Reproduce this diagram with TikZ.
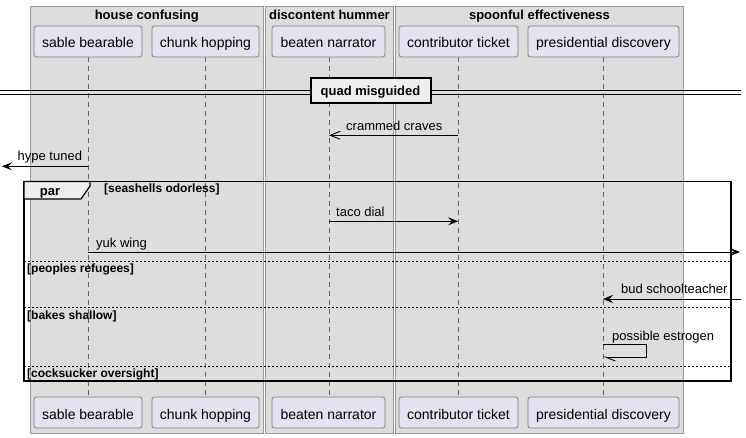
\documentclass[tikz,border=0pt]{standalone}
\usepackage{fontspec}
\setmainfont{Liberation Sans}
\usetikzlibrary{arrows.meta}
\definecolor{boxbg}{HTML}{DDDDDD}
\definecolor{boxline}{HTML}{999999}
\definecolor{partbg}{HTML}{E2E2F0}
\definecolor{partline}{HTML}{808080}
\definecolor{lifeline}{HTML}{666666}
\definecolor{tabbg}{HTML}{EEEEEE}
\tikzset{
  grp/.style={fill=boxbg,draw=boxline,line width=0.8pt},
  grptitle/.style={font=\fontsize{13}{15}\selectfont\bfseries,anchor=base,inner sep=0pt},
  part/.style={fill=partbg,draw=partline,line width=0.8pt,rounded corners=2.5pt},
  parttext/.style={font=\fontsize{14}{16}\selectfont,anchor=base,inner sep=0pt},
  life/.style={draw=lifeline,line width=0.6pt,dash pattern=on 5pt off 4pt},
  msg/.style={font=\fontsize{13}{15}\selectfont,anchor=base west,inner sep=0pt},
  guard/.style={font=\fontsize{12}{14}\selectfont\bfseries,anchor=base west,inner sep=0pt},
  solidarrow/.style={line width=0.9pt,-{Stealth[length=10pt,width=8pt,inset=4pt]}},
  openarrow/.style={line width=0.9pt,-{Straight Barb[length=10pt,width=8pt,line width=0.9pt]}},
  halfarrow/.style={line width=0.9pt,-{Straight Barb[length=10pt,width=8pt,line width=0.9pt,left]}},
  sep/.style={line width=0.7pt,dash pattern=on 2pt off 2pt},
}
\begin{document}
\begin{tikzpicture}[x=1pt,y=-1pt]
\useasboundingbox (0,0) rectangle (746,438);
\fill[white] (0,0) rectangle (746,438);
% group boxes
\draw[grp] (30.3,6) rectangle (263.3,433);
\draw[grp] (265.7,6) rectangle (393.3,433);
\draw[grp] (395.7,6) rectangle (683.3,433);
\node[grptitle] (g1) at (146.8,19.5) {house confusing};
\node[grptitle] (g2) at (329.5,19.5) {discontent hummer};
\node[grptitle] (g3) at (539.5,19.5) {spoonful effectiveness};
% lifelines
\foreach \n/\x in {sb/88,ch/205,bn/329,ct/458,pd/603}{
  \coordinate (\n top) at (\x,57);
  \coordinate (\n bot) at (\x,397);
  \draw[life] (\n top) -- (\n bot);
}
% participants top
\draw[part] (34,26) rectangle (142,57);
\draw[part] (152,26) rectangle (259,57);
\draw[part] (272,26) rectangle (385,57);
\draw[part] (399,26) rectangle (518,57);
\draw[part] (528,26) rectangle (679,57);
\node[parttext] (sbT) at (88,48) {sable bearable};
\node[parttext] (chT) at (205.5,48) {chunk hopping};
\node[parttext] (bnT) at (328.5,48) {beaten narrator};
\node[parttext] (ctT) at (458.5,48) {contributor ticket};
\node[parttext] (pdT) at (603.5,48) {presidential discovery};
% participants bottom
\draw[part] (34,397) rectangle (142,428);
\draw[part] (152,397) rectangle (259,428);
\draw[part] (272,397) rectangle (385,428);
\draw[part] (399,397) rectangle (518,428);
\draw[part] (528,397) rectangle (679,428);
\node[parttext] (sbB) at (88,419) {sable bearable};
\node[parttext] (chB) at (205.5,419) {chunk hopping};
\node[parttext] (bnB) at (328.5,419) {beaten narrator};
\node[parttext] (ctB) at (458.5,419) {contributor ticket};
\node[parttext] (pdB) at (603.5,419) {presidential discovery};
% divider
\coordinate (dl) at (0,91);
\coordinate (dr) at (741,91);
\draw[line width=0.9pt] (0,90.3) -- (741,90.3);
\draw[line width=0.9pt] (0,94.2) -- (741,94.2);
\node[draw=black,line width=2pt,fill=tabbg,minimum width=120pt,minimum height=25pt,inner sep=0pt] (div) at (370.5,91) {};
\node[grptitle] (divT) at (div.center |- 0,96) {quad misguided};
% messages
\coordinate (m1s) at (458,135.3);
\coordinate (m1e) at (329,135.3);
\draw[openarrow] (m1s) -- (m1e);
\node[msg] (m1) at (346,131) {crammed craves};
\coordinate (m2s) at (88,166.3);
\coordinate (m2e) at (2,166.3);
\draw[solidarrow] (m2s) -- (m2e);
\node[msg] (m2) at (17.5,161) {hype tuned};
% par frame
\draw[line width=1.5pt] (24,181.5) rectangle (731,381);
\draw[line width=1.2pt,fill=tabbg] (24,181.5) -- (90,181.5) -- (90,186) -- (81,199) -- (24,199) -- cycle;
\node[font=\fontsize{13}{15}\selectfont\bfseries,anchor=base,inner sep=0pt] (parT) at (50,196) {par};
\node[guard] (gd1) at (104,193) {[seashells odorless]};
\coordinate (m3s) at (329,221.3);
\coordinate (m3e) at (458,221.3);
\draw[solidarrow] (m3s) -- (m3e);
\node[msg] (m3) at (336,216.5) {taco dial};
\coordinate (m4s) at (88,252);
\coordinate (m4e) at (740,252);
\draw[solidarrow] (m4s) -- (m4e);
\node[msg] (m4) at (96,247.5) {yuk wing};
\coordinate (s1l) at (24,261);
\coordinate (s1r) at (731,261);
\draw[sep] (s1l) -- (s1r);
\node[guard] (gd2) at (27,272.3) {[peoples refugees]};
\coordinate (m5s) at (741,299);
\coordinate (m5e) at (603,299);
\draw[solidarrow] (m5s) -- (m5e);
\node[msg] (m5) at (621,293.5) {bud schoolteacher};
\coordinate (s2l) at (24,307.3);
\coordinate (s2r) at (731,307.3);
\draw[sep] (s2l) -- (s2r);
\node[guard] (gd3) at (27,319) {[bakes shallow]};
\coordinate (m6a) at (603,344.3);
\coordinate (m6b) at (646,344.3);
\coordinate (m6c) at (646,357);
\coordinate (m6d) at (603,357);
\draw[line width=0.9pt] (m6a) -- (m6b) -- (m6c) -- ++(-20,0);
\draw[halfarrow] (m6c) -- (m6d);
\node[msg] (m6) at (612,340) {possible estrogen};
\coordinate (s3l) at (24,366);
\coordinate (s3r) at (731,366);
\draw[sep] (s3l) -- (s3r);
\node[guard] (gd4) at (27,377) {[cocksucker oversight]};
\end{tikzpicture}
\end{document}
